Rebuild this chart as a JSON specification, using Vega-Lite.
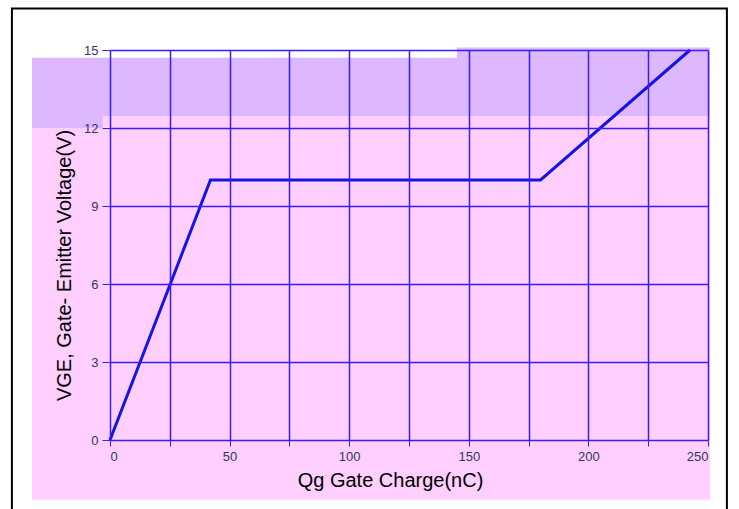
{
  "$schema": "https://vega.github.io/schema/vega-lite/v6.json",
  "width": 598,
  "height": 390,
  "autosize": {"type": "none"},
  "padding": {"left": 110, "top": 50, "right": 31, "bottom": 69},
  "background": "#ffffff",
  "config": {
    "view": {"stroke": null},
    "font": "Liberation Sans"
  },
  "datasets": {
    "curve": [
      {"qg": 0, "vge": 0},
      {"qg": 42, "vge": 10},
      {"qg": 180, "vge": 10},
      {"qg": 242.5, "vge": 15}
    ]
  },
  "layer": [
    {
      "data": {"values": [{}]},
      "mark": {"type": "rect", "color": "#ddb8ff", "clip": false},
      "encoding": {
        "x": {"datum": -32.6, "type": "quantitative", "scale": {"domain": [0, 250], "nice": false}},
        "x2": {"datum": 250.8},
        "y": {"datum": 12.0, "type": "quantitative", "scale": {"domain": [0, 15], "nice": false}},
        "y2": {"datum": 14.7}
      }
    },
    {
      "data": {"values": [{}]},
      "mark": {"type": "rect", "color": "#ddb8ff", "clip": false},
      "encoding": {
        "x": {"datum": 145, "type": "quantitative"},
        "x2": {"datum": 250.8},
        "y": {"datum": 14.0, "type": "quantitative"},
        "y2": {"datum": 15.1}
      }
    },
    {
      "data": {"values": [{}]},
      "mark": {"type": "rect", "color": "#ffd0ff", "clip": false},
      "encoding": {
        "x": {"datum": -32.6, "type": "quantitative"},
        "x2": {"datum": 250.8},
        "y": {"datum": -2.3, "type": "quantitative"},
        "y2": {"datum": 12.0}
      }
    },
    {
      "data": {"values": [{}]},
      "mark": {"type": "rect", "color": "#ffd0ff", "clip": false},
      "encoding": {
        "x": {"datum": -3, "type": "quantitative"},
        "x2": {"datum": 250.8},
        "y": {"datum": 12.0, "type": "quantitative"},
        "y2": {"datum": 12.46}
      }
    },
    {
      "data": {"values": [{}]},
      "mark": {"type": "rect", "fill": null, "stroke": "#000000", "strokeWidth": 2, "clip": false},
      "encoding": {
        "x": {"datum": -41, "type": "quantitative"},
        "x2": {"datum": 257.9},
        "y": {"datum": -3.2, "type": "quantitative"},
        "y2": {"datum": 16.6}
      }
    },
    {
      "data": {"name": "curve"},
      "mark": {"type": "line", "color": "#1414e6", "strokeWidth": 3},
      "encoding": {
        "x": {
          "field": "qg", "type": "quantitative",
          "scale": {"domain": [0, 250], "nice": false},
          "title": "Qg  Gate Charge(nC)",
          "axis": {
            "zindex": 1,
            "values": [0, 25, 50, 75, 100, 125, 150, 175, 200, 225, 250],
            "labelExpr": "datum.value % 50 == 0 ? datum.label : ''",
            "grid": true, "gridColor": "#3a1aff", "gridWidth": 1.5, "gridOpacity": 1,
            "domain": false, "tickColor": "#3a1aff", "tickSize": 6,
            "labelColor": "#333366", "labelFontSize": 13, "labelPadding": 4,
            "titleFontSize": 20, "titleFontWeight": "normal", "titleColor": "#000000",
            "titleX": 280, "titleY": 50, "titleBaseline": "bottom"
          }
        },
        "y": {
          "field": "vge", "type": "quantitative",
          "scale": {"domain": [0, 15], "nice": false},
          "title": "VGE, Gate- Emitter Voltage(V)",
          "axis": {
            "zindex": 1,
            "values": [0, 1.5, 3, 4.5, 6, 7.5, 9, 10.5, 12, 13.5, 15],
            "labelExpr": "datum.value % 3 == 0 ? datum.label : ''",
            "grid": true, "gridColor": "#3a1aff", "gridWidth": 1.5, "gridOpacity": 1,
            "domain": false, "tickColor": "#3a1aff", "tickSize": 8,
            "labelColor": "#333366", "labelFontSize": 13, "labelPadding": 4,
            "titleFontSize": 20, "titleFontWeight": "normal", "titleColor": "#000000",
            "titleX": -46, "titleY": 215, "titleAngle": -90, "titleBaseline": "middle", "titleAlign": "center"
          }
        }
      }
    }
  ]
}
